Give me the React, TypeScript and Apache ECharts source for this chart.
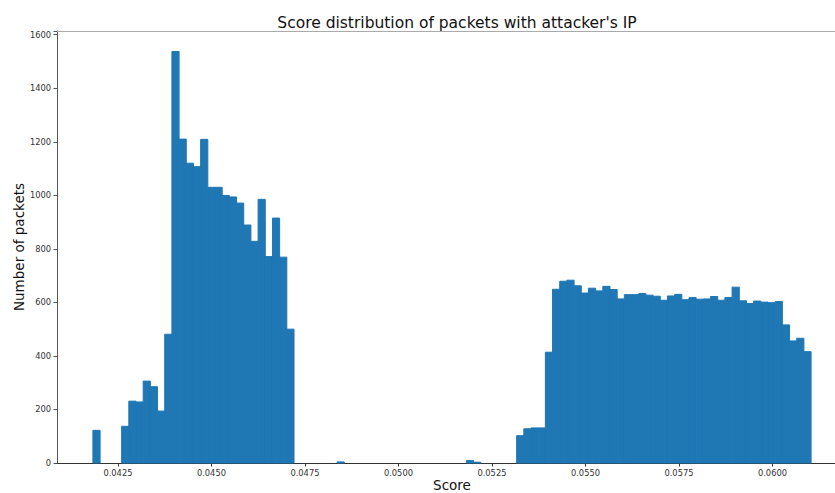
import React, { useEffect, useRef } from "react";
import * as echarts from "echarts";

// Histogram of anomaly scores (100 equal-width bins between HIST_MIN and HIST_MAX)
const HIST_MIN = 0.041831;
const HIST_MAX = 0.061033;
const BIN_COUNT = 100;

// Packets per bin, in bin order
const counts: number[] = [
  122, 0, 0, 0, 137, 231, 228, 306, 285, 194,
  481, 1537, 1210, 1120, 1107, 1209, 1030, 1030, 999, 994,
  971, 889, 828, 985, 771, 915, 769, 500, 0, 0,
  0, 0, 0, 0, 4, 0, 0, 0, 0, 0,
  0, 0, 0, 0, 0, 0, 0, 0, 0, 0,
  0, 0, 9, 3, 0, 0, 0, 0, 0, 102,
  128, 131, 131, 414, 649, 679, 683, 662, 635, 653,
  643, 660, 648, 613, 629, 629, 633, 627, 623, 608,
  624, 630, 610, 618, 612, 613, 622, 608, 618, 657,
  606, 596, 605, 601, 599, 603, 516, 456, 466, 416,
];

const xTicks: number[] = [0.0425, 0.045, 0.0475, 0.05, 0.0525, 0.055, 0.0575, 0.06];
const yTicks: number[] = [0, 200, 400, 600, 800, 1000, 1200, 1400, 1600];

const TITLE = "Score distribution of packets with attacker's IP";
const X_NAME = "Score";
const Y_NAME = "Number of packets";

const FONT = "DejaVu Sans";
const BAR_COLOR = "#1f77b4";

export default function App() {
  const ref = useRef<HTMLDivElement>(null);

  useEffect(() => {
    if (!ref.current) return;
    const chart = echarts.init(ref.current, undefined, { renderer: "svg" });

    const binWidth = (HIST_MAX - HIST_MIN) / BIN_COUNT;
    const bins = counts.map((c, i) => [
      HIST_MIN + i * binWidth,
      HIST_MIN + (i + 1) * binWidth,
      c,
    ]);

    // 5% padding on each side of the data range, as in the usual auto-scaling
    const span = HIST_MAX - HIST_MIN;
    const xMin = HIST_MIN - span * 0.05;
    const xMax = HIST_MAX + span * 0.05;
    const yMax = Math.max(...counts) * 1.05;

    chart.setOption({
      animation: false,
      backgroundColor: "#ffffff",
      title: {
        text: TITLE,
        left: 452,
        top: 10,
        textAlign: "center",
        textStyle: {
          fontFamily: FONT,
          fontSize: 15.5,
          fontWeight: "normal",
          color: "#111",
        },
      },
      grid: {
        left: 57,
        right: -12,
        top: 31,
        bottom: 30,
        outerBoundsMode: "none",
        containLabel: false,
      },
      xAxis: [
        {
          type: "value",
          min: xMin,
          max: xMax,
          name: X_NAME,
          nameLocation: "middle",
          nameGap: 15,
          nameMoveOverlap: false,
          nameTextStyle: {
            fontFamily: FONT,
            fontSize: 13.5,
            lineHeight: 14,
            color: "#111",
          },
          splitLine: { show: false },
          axisLine: { show: true, lineStyle: { color: "#333", width: 1 } },
          axisTick: {
            show: true,
            customValues: xTicks,
            length: 3.5,
            lineStyle: { color: "#333" },
          },
          axisLabel: {
            customValues: xTicks,
            formatter: (v: number) => v.toFixed(4),
            fontFamily: FONT,
            fontSize: 8.3,
            color: "#333",
            margin: 6,
          },
        },
        {
          type: "value",
          position: "top",
          min: xMin,
          max: xMax,
          splitLine: { show: false },
          axisLine: { show: true, lineStyle: { color: "#aaa", width: 1 } },
          axisTick: { show: false },
          axisLabel: { show: false },
        },
      ],
      yAxis: {
        type: "value",
        min: 0,
        max: yMax,
        interval: 200,
        name: Y_NAME,
        nameLocation: "middle",
        nameGap: 31,
        nameMoveOverlap: false,
        nameTextStyle: { fontFamily: FONT, fontSize: 13.5, color: "#111" },
        splitLine: { show: false },
        axisLine: { show: true, lineStyle: { color: "#555", width: 1 } },
        axisTick: { show: true, length: 3.5, lineStyle: { color: "#555" } },
        axisLabel: {
          fontFamily: FONT,
          fontSize: 8.3,
          color: "#333",
          margin: 6,
          formatter: (v: number) => (yTicks.includes(v) ? String(v) : ""),
        },
      },
      series: [
        {
          type: "custom",
          xAxisIndex: 0,
          yAxisIndex: 0,
          encode: { x: [0, 1], y: 2 },
          data: bins,
          renderItem: (params: any, api: any) => {
            if (!api.value(2)) return null;
            const top = api.coord([api.value(0), api.value(2)]);
            const bottom = api.coord([api.value(1), 0]);
            return {
              type: "rect",
              shape: {
                x: top[0],
                y: top[1],
                width: bottom[0] - top[0],
                height: bottom[1] - top[1],
              },
              // a thin edge of the fill colour closes the seams between bins
              style: { fill: BAR_COLOR, stroke: BAR_COLOR, lineWidth: 1 },
            };
          },
        },
      ],
    });

    return () => chart.dispose();
  }, []);

  return (
    <div
      ref={ref}
      style={{ position: "fixed", left: 0, top: 0, width: 835, height: 493 }}
    />
  );
}
